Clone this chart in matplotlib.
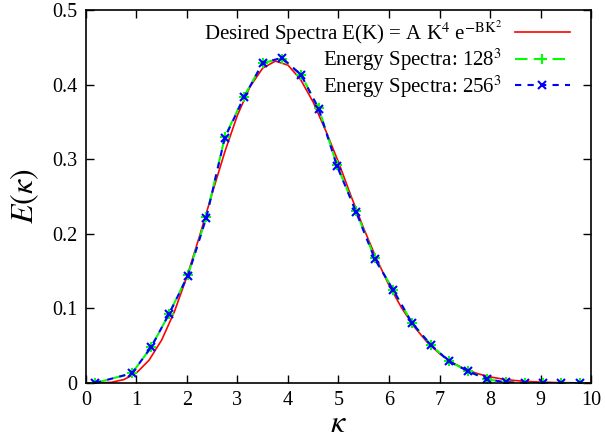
import numpy as np
import matplotlib
matplotlib.use("Agg")
import matplotlib.pyplot as plt

plt.rcParams["font.family"] = ["Liberation Serif", "DejaVu Serif"]
plt.rcParams["mathtext.fontset"] = "stix"

# desired spectrum
k_des = [0.0, 0.25, 0.5, 0.75, 1.0, 1.25, 1.5, 1.75, 2.0, 2.25, 2.5, 2.75,
         3.0, 3.25, 3.5, 3.75, 4.0, 4.25, 4.5, 4.75, 5.0, 5.25, 5.5, 5.75,
         6.0, 6.25, 6.5, 6.75, 7.0, 7.25, 7.5, 7.75, 8.0, 8.25, 8.5, 8.75,
         9.0, 9.25, 9.5, 9.75, 10.0]
e_des = [0.0, 0.0001, 0.0009, 0.0046, 0.0136, 0.0307, 0.0578, 0.0955,
         0.1428, 0.1972, 0.2545, 0.3101, 0.3592, 0.3974, 0.4222, 0.4315,
         0.4261, 0.4067, 0.3764, 0.3378, 0.2960, 0.2503, 0.2071, 0.1669,
         0.1311, 0.1006, 0.0753, 0.0551, 0.0394, 0.0275, 0.0188, 0.0126,
         0.0082, 0.0053, 0.0033, 0.0020, 0.0012, 0.0007, 0.0004, 0.0002,
         0.0001]

# shell-averaged spectra
k_sim = [0.18, 0.91, 1.29, 1.64, 2.02, 2.38, 2.75, 3.13, 3.50, 3.88, 4.26,
         4.61, 4.97, 5.35, 5.72, 6.08, 6.46, 6.83, 7.19, 7.56, 7.94, 8.32,
         8.69, 9.05, 9.41, 9.78]
e_128 = [0.0, 0.013, 0.048, 0.092, 0.145, 0.222, 0.330, 0.384, 0.429, 0.435,
         0.413, 0.368, 0.292, 0.230, 0.167, 0.125, 0.080, 0.051, 0.029,
         0.016, 0.005, 0.001, 0.0, 0.0, 0.0, 0.0]
e_256 = [0.0, 0.013, 0.048, 0.092, 0.144, 0.221, 0.329, 0.383, 0.429, 0.436,
         0.413, 0.367, 0.291, 0.229, 0.166, 0.125, 0.080, 0.051, 0.029,
         0.016, 0.005, 0.001, 0.0, 0.0, 0.0, 0.0]

x_ticks = [0, 1, 2, 3, 4, 5, 6, 7, 8, 9, 10]
y_ticks = [0, 0.1, 0.2, 0.3, 0.4, 0.5]
y_labels = ["0", "0.1", "0.2", "0.3", "0.4", "0.5"]

fig = plt.figure(figsize=(6.05, 4.45), dpi=100)
ax = fig.add_axes([0.1421, 0.1393, 0.8348, 0.8382])

ax.plot(k_des, e_des, color="#ff0000", lw=1.2,
        label=r"Desired Spectra E(K) = A K$^{4}$ e$^{\mathrm{-BK}^{2}}$")
ax.plot(k_sim, e_128, color="#00ff00", lw=1.5, ls=(0, (6, 3)),
        marker="+", ms=7, mew=1.5, label=r"Energy Spectra: 128$^{3}$")
ax.plot(k_sim, e_256, color="#0000ff", lw=1.5, ls=(0, (3, 3)),
        marker="x", ms=6, mew=1.5, label=r"Energy Spectra: 256$^{3}$")

ax.set_xlim(0, 10)
ax.set_ylim(0, 0.5)
ax.set_xticks(x_ticks)
ax.set_yticks(y_ticks)
ax.set_yticklabels(y_labels)
ax.tick_params(direction="in", top=True, right=True, length=6, width=1,
               labelsize=14.5, pad=6)
for s in ax.spines.values():
    s.set_linewidth(1.2)

ax.set_xlabel(r"$\kappa$", fontsize=23, labelpad=0)
ax.set_ylabel(r"$E(\kappa)$", fontsize=23, labelpad=8)

ax.legend(loc="upper right", frameon=False, markerfirst=False, fontsize=15,
          handlelength=2.65, handletextpad=0.6, labelspacing=0.0,
          borderaxespad=0.0, bbox_to_anchor=(0.975, 1.0))

fig.savefig("out.png", dpi=100)
